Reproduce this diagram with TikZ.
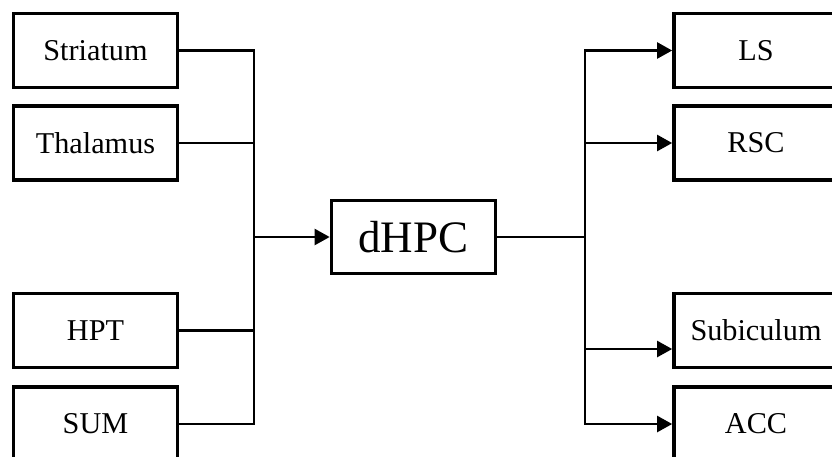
\documentclass[tikz,border=0pt]{standalone}
\usepackage{fontspec}
\setmainfont{Liberation Serif}
\usetikzlibrary{arrows.meta, positioning, calc}

\begin{document}
\begin{tikzpicture}[
		x=0.025cm, y=-0.025cm,
		% --- ESTILOS ---
		area/.style = {draw, line width=2.6pt, rectangle, minimum width=4.1cm, minimum height=1.85cm, inner sep=0pt, align=center, font=\fontsize{21.5}{25}\selectfont},
		hub/.style = {draw, line width=2.6pt, rectangle, minimum width=4.1cm, minimum height=1.83cm, inner sep=0pt, align=center, font=\fontsize{32}{38}\selectfont},
		link/.style = {line width=1.7pt},
		>={Triangle[length=10.7pt, width=11.4pt]}
		]
		
		\useasboundingbox (0,0) rectangle (832,456);
		
		% --- ENTRADAS (izquierda) ---
		\node [area] (str) at (95.5,50.5) {Striatum};
		\node [area] (thal) at (95.5,143) {Thalamus};
		\node [area] (hpt) at (95.5,330.5) {HPT};
		\node [area] (sum) at (95.5,424) {SUM};
		
		% --- NODO CENTRAL ---
		\node [hub] (dhpc) at (413.5,237) {dHPC};
		
		% --- SALIDAS (derecha) ---
		\node [area] (ls) at (756,50.5) {LS};
		\node [area] (rsc) at (756,143) {RSC};
		\node [area] (sub) at (756,330.5) {Subiculum};
		\node [area] (acc) at (756,424) {ACC};
		
		% --- TRONCOS ---
		\coordinate (ltrunk) at (254,237);
		\coordinate (rtrunk) at (585,237);
		
		% --- CONEXIONES DE ENTRADA ---
		\draw [link] (str.east) -| (ltrunk);
		\draw [link] (sum.east) -| (ltrunk);
		\draw [link] (thal.east) -- (thal.east -| ltrunk);
		\draw [link] (hpt.east) -- (hpt.east -| ltrunk);
		\draw [link, ->] (ltrunk) -- (dhpc);
		
		% --- CONEXIONES DE SALIDA ---
		\draw [link] (dhpc) -- (rtrunk);
		\draw [link, ->] (rtrunk) |- (ls.west);
		\draw [link, ->] (rtrunk) |- (rsc.west);
		\draw [link, ->] (rtrunk) |- ($(sub.west)+(0,18.5)$);
		\draw [link, ->] (rtrunk) |- (acc.west);
		
	\end{tikzpicture}
\end{document}
